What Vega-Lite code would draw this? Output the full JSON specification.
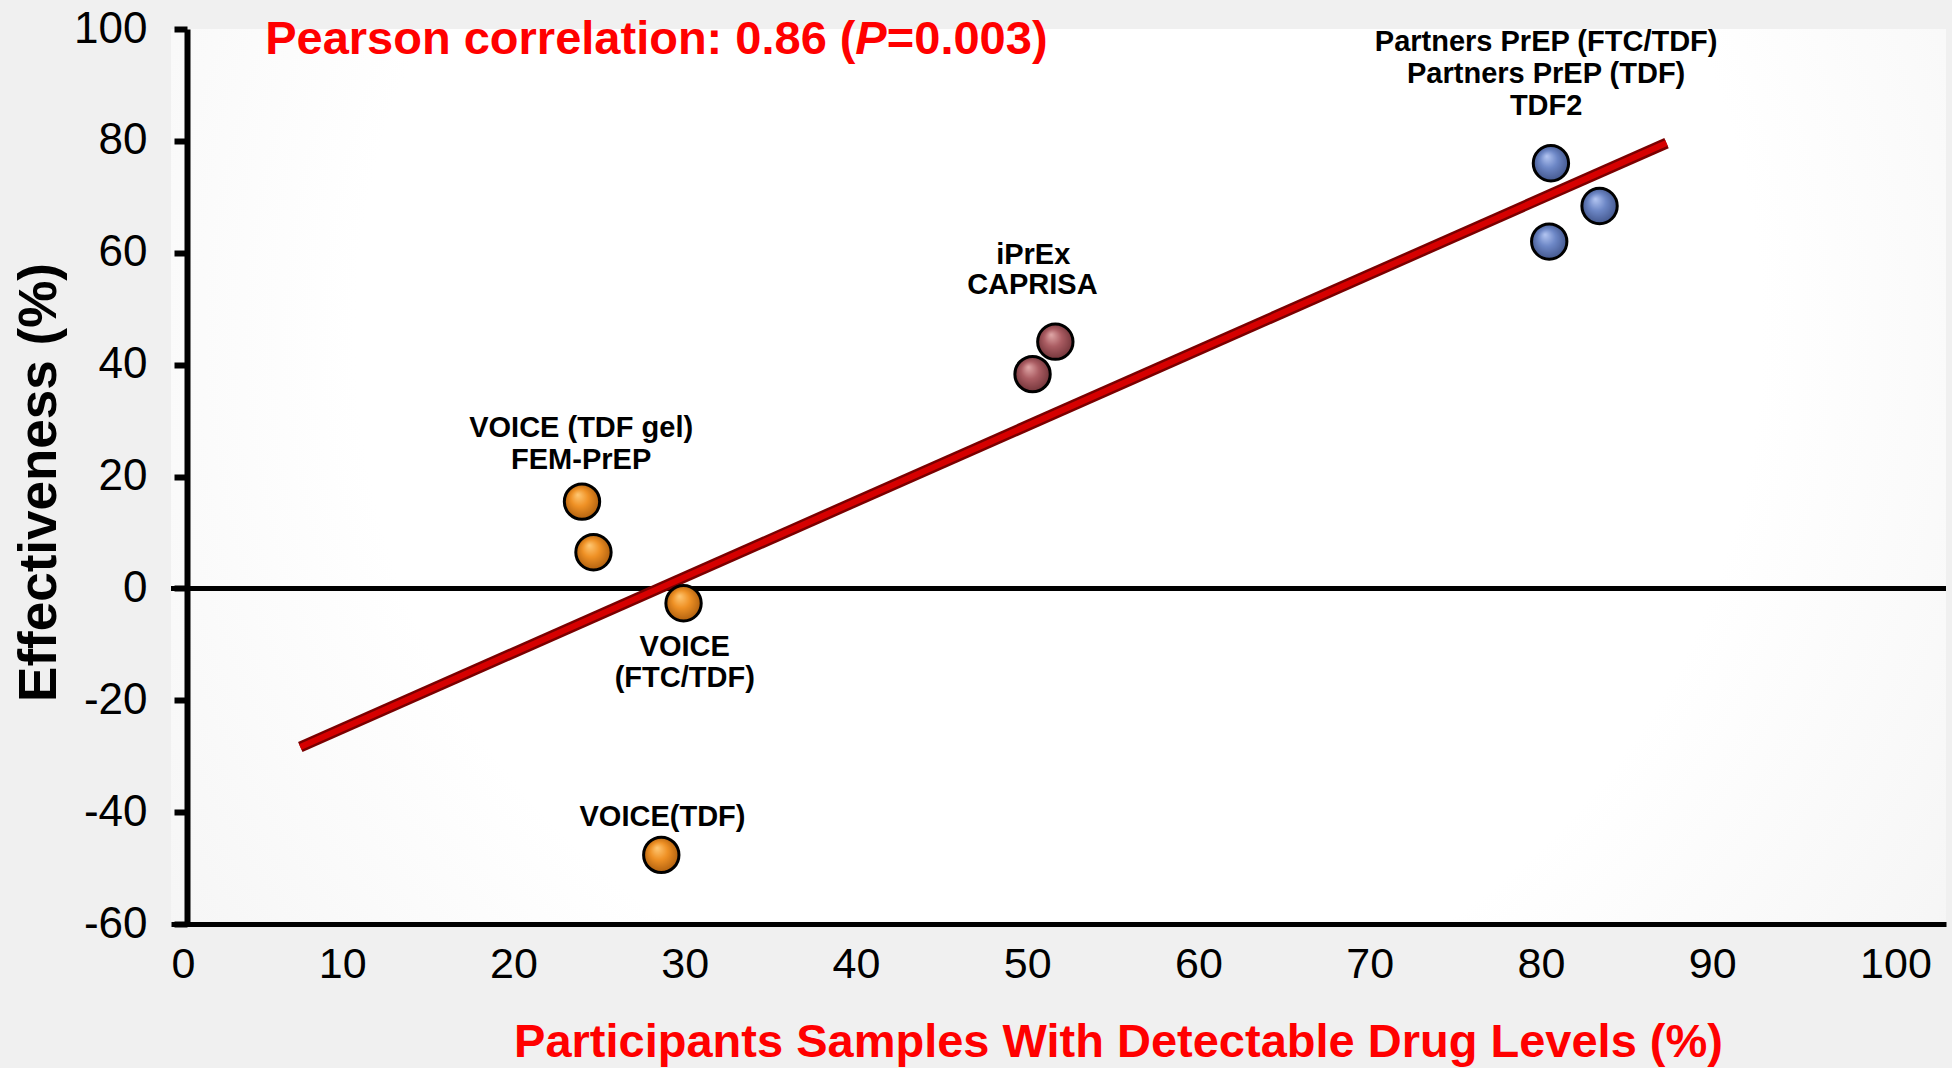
{
  "$schema": "https://vega.github.io/schema/vega-lite/v6.json",
  "width": 1775,
  "height": 895,
  "autosize": "none",
  "padding": {"left": 171, "top": 29, "right": 6, "bottom": 144},
  "background": "#f0f0f0",
  "view": {
    "stroke": null,
    "fill": {"gradient": "radial", "x1": 0.5, "y1": 0.42, "r1": 0, "x2": 0.5, "y2": 0.42, "r2": 0.72,
      "stops": [{"offset": 0, "color": "#ffffff"}, {"offset": 0.55, "color": "#ffffff"}, {"offset": 1, "color": "#f0f0f0"}]}
  },
  "config": {"font": "Liberation Sans"},
  "datasets": {
    "zero": [{"x": 0, "x2": 103.65, "y": 0}],
    "fit": [{"x": 7.55, "y": -28.35}, {"x": 87.33, "y": 79.6}],
    "points": [
      {"study": "Partners PrEP (FTC/TDF)", "group": "high", "x": 80.58, "y": 76.0},
      {"study": "TDF2", "group": "high", "x": 83.42, "y": 68.35},
      {"study": "Partners PrEP (TDF)", "group": "high", "x": 80.48, "y": 62.0},
      {"study": "iPrEx", "group": "mid", "x": 51.64, "y": 44.1},
      {"study": "CAPRISA", "group": "mid", "x": 50.31, "y": 38.3},
      {"study": "VOICE (TDF gel)", "group": "low", "x": 24.0, "y": 15.5},
      {"study": "FEM-PrEP", "group": "low", "x": 24.67, "y": 6.45},
      {"study": "VOICE (FTC/TDF)", "group": "low", "x": 29.93, "y": -2.65},
      {"study": "VOICE(TDF)", "group": "low", "x": 28.63, "y": -47.65}
    ],
    "labels": [
      {"text": "Partners PrEP (FTC/TDF)", "x": 80.3, "y": 97.6},
      {"text": "Partners PrEP (TDF)", "x": 80.3, "y": 92.0},
      {"text": "TDF2", "x": 80.3, "y": 86.3},
      {"text": "iPrEx", "x": 50.35, "y": 59.6},
      {"text": "CAPRISA", "x": 50.3, "y": 54.2},
      {"text": "VOICE (TDF gel)", "x": 23.95, "y": 28.7},
      {"text": "FEM-PrEP", "x": 23.95, "y": 22.95},
      {"text": "VOICE", "x": 30.0, "y": -10.4},
      {"text": "(FTC/TDF)", "x": 30.0, "y": -16.0},
      {"text": "VOICE(TDF)", "x": 28.7, "y": -40.8}
    ],
    "title": [
      {"text": "Pearson correlation: 0.86 (", "x": 5.5, "y": 98.0, "italic": false},
      {"text": "P", "x": 39.96, "y": 98.0, "italic": true},
      {"text": "=0.003)", "x": 41.8, "y": 98.0, "italic": false}
    ]
  },
  "encoding": {
    "x": {
      "field": "x",
      "type": "quantitative",
      "scale": {"domain": [0, 103.65], "nice": false, "zero": false},
      "title": "Participants Samples With Detectable Drug Levels (%)",
      "axis": {
        "values": [0, 10, 20, 30, 40, 50, 60, 70, 80, 90, 100],
        "labelExpr": "'' + datum.value",
        "ticks": false,
        "domain": true,
        "domainColor": "black",
        "domainWidth": 5,
        "grid": false,
        "labelFontSize": 43,
        "labelColor": "black",
        "labelPadding": 19,
        "labelOffset": {"condition": {"test": "datum.value == 0 || datum.value == 100", "value": 12}, "value": 0},
        "labelFlush": false,
        "labelOverlap": false,
        "titleFontSize": 47,
        "titleFontWeight": "bold",
        "titleColor": "#ff0000",
        "titleX": 947,
        "titleY": 132,
        "titleBaseline": "alphabetic",
        "titleAlign": "center"
      }
    },
    "y": {
      "field": "y",
      "type": "quantitative",
      "scale": {"domain": [-60, 100], "nice": false, "zero": false},
      "title": "Effectiveness (%)",
      "axis": {
        "values": [-60, -40, -20, 0, 20, 40, 60, 80, 100],
        "labelExpr": "'' + datum.value",
        "offset": -16,
        "tickSize": 13,
        "tickWidth": 6,
        "tickColor": "black",
        "domainColor": "black",
        "domainWidth": 6,
        "grid": false,
        "labelFontSize": 44,
        "labelColor": "black",
        "labelPadding": 27,
        "labelFlush": false,
        "labelOverlap": false,
        "titleFontSize": 53,
        "titleFontWeight": "bold",
        "titleColor": "black",
        "titleAngle": -90,
        "titleX": -132,
        "titleY": 453,
        "titleBaseline": "alphabetic",
        "titleAlign": "center"
      }
    }
  },
  "layer": [
    {
      "data": {"name": "zero"},
      "mark": {"type": "rule", "color": "black", "strokeWidth": 5},
      "encoding": {"x2": {"field": "x2"}}
    },
    {
      "data": {"name": "fit"},
      "mark": {"type": "line", "color": "#7a0000", "strokeWidth": 11, "strokeCap": "butt"},
      "encoding": {}
    },
    {
      "data": {"name": "fit"},
      "mark": {"type": "line", "color": "#d60000", "strokeWidth": 6, "strokeCap": "butt"},
      "encoding": {}
    },
    {
      "data": {"name": "points"},
      "transform": [{"filter": "datum.group === 'high'"}],
      "mark": {
        "type": "point", "shape": "circle", "filled": true, "size": 1250, "opacity": 1,
        "stroke": "black", "strokeWidth": 3,
        "fill": {"gradient": "radial", "x1": 0.38, "y1": 0.3, "r1": 0, "x2": 0.5, "y2": 0.5, "r2": 0.55,
          "stops": [{"offset": 0, "color": "#b4c6f2"}, {"offset": 0.45, "color": "#6d87c6"}, {"offset": 1, "color": "#3e5186"}]}
      }
    },
    {
      "data": {"name": "points"},
      "transform": [{"filter": "datum.group === 'mid'"}],
      "mark": {
        "type": "point", "shape": "circle", "filled": true, "size": 1250, "opacity": 1,
        "stroke": "black", "strokeWidth": 3,
        "fill": {"gradient": "radial", "x1": 0.38, "y1": 0.3, "r1": 0, "x2": 0.5, "y2": 0.5, "r2": 0.55,
          "stops": [{"offset": 0, "color": "#e0a8a8"}, {"offset": 0.45, "color": "#ab5d63"}, {"offset": 1, "color": "#6c3035"}]}
      }
    },
    {
      "data": {"name": "points"},
      "transform": [{"filter": "datum.group === 'low'"}],
      "mark": {
        "type": "point", "shape": "circle", "filled": true, "size": 1250, "opacity": 1,
        "stroke": "black", "strokeWidth": 3,
        "fill": {"gradient": "radial", "x1": 0.38, "y1": 0.3, "r1": 0, "x2": 0.5, "y2": 0.5, "r2": 0.55,
          "stops": [{"offset": 0, "color": "#ffc874"}, {"offset": 0.45, "color": "#ef9125"}, {"offset": 1, "color": "#a85a0c"}]}
      }
    },
    {
      "data": {"name": "labels"},
      "mark": {"type": "text", "font": "Liberation Sans", "fontWeight": "bold", "fontSize": 29, "color": "black", "align": "center", "baseline": "middle"},
      "encoding": {"text": {"field": "text"}}
    },
    {
      "data": {"name": "title"},
      "transform": [{"filter": "!datum.italic"}],
      "mark": {"type": "text", "font": "Liberation Sans", "fontWeight": "bold", "fontSize": 47, "color": "#ff0000", "align": "left", "baseline": "middle"},
      "encoding": {"text": {"field": "text"}}
    },
    {
      "data": {"name": "title"},
      "transform": [{"filter": "datum.italic"}],
      "mark": {"type": "text", "font": "Liberation Sans", "fontWeight": "bold", "fontStyle": "italic", "fontSize": 47, "color": "#ff0000", "align": "left", "baseline": "middle"},
      "encoding": {"text": {"field": "text"}}
    }
  ]
}
